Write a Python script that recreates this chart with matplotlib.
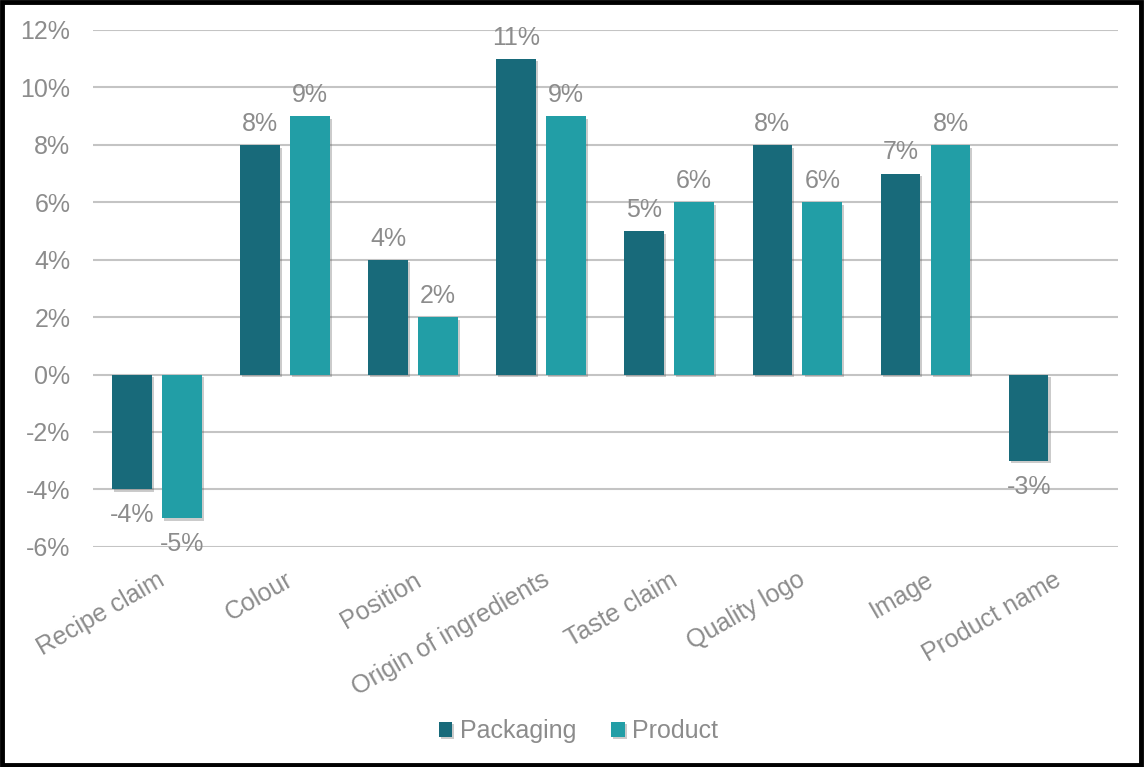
import matplotlib.pyplot as plt
import matplotlib.patheffects as pe
from matplotlib.patches import Rectangle
from matplotlib.ticker import FuncFormatter
import numpy as np

categories = ['Recipe claim', 'Colour', 'Position', 'Origin of ingredients',
              'Taste claim', 'Quality logo', 'Image', 'Product name']
packaging = [-4, 8, 4, 11, 5, 8, 7, -3]
product = [-5, 9, 2, 9, 6, 6, 8, None]

PACK_COLOR = '#186a7a'
PROD_COLOR = '#229ea6'
TEXT_COLOR = '#8c8c8c'
FS = 18

plt.rcParams['font.family'] = ['Liberation Sans', 'DejaVu Sans']

fig = plt.figure(figsize=(11.44, 7.67), dpi=100)
ax = fig.add_axes([0.081, 0.287, 0.896, 0.674])

x = np.arange(len(categories))
width = 0.31
offset = 0.195
shadow = [pe.SimplePatchShadow(offset=(1.5, -2), shadow_rgbFace='#555555', alpha=0.3), pe.Normal()]


def draw_series(values, pos, color, label):
    xs = [p for p, v in zip(pos, values) if v is not None]
    vs = [v for v in values if v is not None]
    bars = ax.bar(xs, vs, width, color=color, label=label, zorder=3)
    for b in bars:
        b.set_path_effects(shadow)
    # value labels sit above positive bars and below negative ones
    for xi, v in zip(xs, vs):
        if v >= 0:
            ax.annotate(f'{v}%', (xi, v), xytext=(0, 6.5), textcoords='offset points',
                        ha='center', va='bottom', fontsize=FS, color=TEXT_COLOR, zorder=4)
        else:
            ax.annotate(f'{v}%', (xi, v), xytext=(0, -10), textcoords='offset points',
                        ha='center', va='top', fontsize=FS, color=TEXT_COLOR, zorder=4)
    return bars


draw_series(packaging, x - offset, PACK_COLOR, 'Packaging')
draw_series(product, x + offset, PROD_COLOR, 'Product')

ax.set_xlim(-0.5, len(categories) - 0.5)
ax.set_ylim(-6, 12)
ax.set_yticks(range(-6, 13, 2))
ax.yaxis.set_major_formatter(FuncFormatter(lambda v, _: f'{int(v)}%'))
ax.grid(axis='y', color='#c4c4c4', linewidth=1.5, zorder=0)
ax.set_axisbelow(True)
for s in ax.spines.values():
    s.set_visible(False)
ax.tick_params(axis='both', length=0, labelsize=FS, labelcolor=TEXT_COLOR)
ax.tick_params(axis='y', pad=16)
ax.set_xticks(x)
ax.set_xticklabels(categories, rotation=30, ha='right', rotation_mode='anchor')
ax.tick_params(axis='x', pad=15)

leg = ax.legend(loc='center', bbox_to_anchor=(0.474, -0.356), ncol=2, frameon=False,
                fontsize=FS, handlelength=0.55, handleheight=0.55, handletextpad=0.3,
                columnspacing=1.4)
for t in leg.get_texts():
    t.set_color(TEXT_COLOR)

fig.patches.append(Rectangle((0.002, 0.003), 0.995, 0.994, transform=fig.transFigure,
                             fill=False, edgecolor='black', linewidth=3.5))

fig.savefig('out.png', dpi=100)
